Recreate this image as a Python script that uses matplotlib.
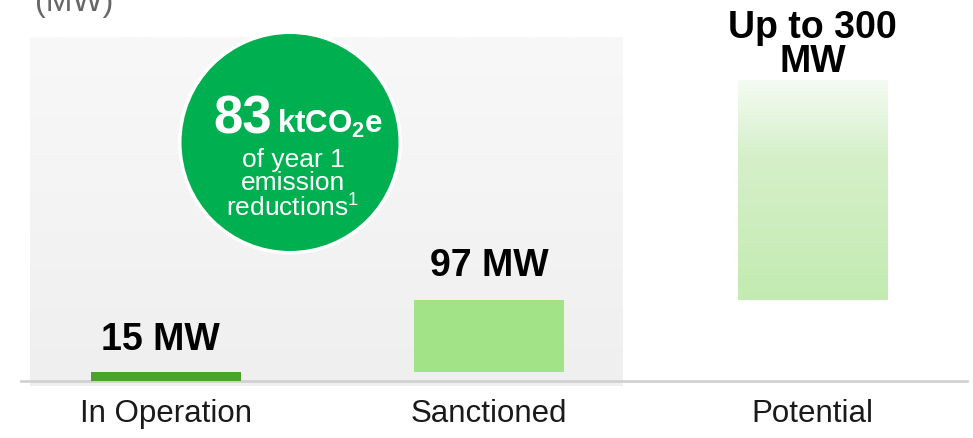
import numpy as np
import matplotlib.pyplot as plt
from matplotlib.patches import Circle
from matplotlib.colors import LinearSegmentedColormap

W, H = 973, 439

# Datos
categorias = ['In Operation', 'Sanctioned', 'Potential']
etiquetas = ['15 MW', '97 MW', 'Up to 300\nMW']
# extension de cada barra tal como se dibuja (cascada, no a escala)
base = [0, 9, 81]
altura = [9, 72, 220]
colores = ['#4ea12b', '#a3e388', '#c6ecb5']

reduccion = '83'
reduccion_unidad = r'$\mathbf{ktCO_2e}$'
reduccion_texto = 'of year 1\nemission\n' + r'reductions$^{1}$'


def px(x, y):
    # pixeles (desde arriba a la izquierda) -> fraccion de figura
    return x / W, 1 - y / H


plt.rcParams['font.family'] = ['Liberation Sans', 'DejaVu Sans']
plt.rcParams['mathtext.fontset'] = 'custom'
plt.rcParams['mathtext.rm'] = 'Liberation Sans'
plt.rcParams['mathtext.bf'] = 'Liberation Sans:bold'

fig = plt.figure(figsize=(W / 100, H / 100), dpi=100)

# fondo gris con degradado
bg = fig.add_axes([30 / W, 1 - 387 / H, 593 / W, 349 / H], zorder=0)
grad = np.linspace(0, 1, 256).reshape(-1, 1)
cmap_bg = LinearSegmentedColormap.from_list('bg', ['#f8f8f8', '#efefef'])
bg.imshow(grad, aspect='auto', cmap=cmap_bg, extent=[0, 1, 0, 1], origin='upper')
bg.axis('off')

# ejes principales
ax = fig.add_axes([21 / W, 1 - 382 / H, 946 / W, 382 / H], zorder=1)
ax.patch.set_alpha(0)
x = np.arange(len(categorias))
bars = ax.bar(x, altura, bottom=base, width=0.464, color=colores, zorder=3)

# degradado de la barra "Potential"
b = bars[2]
b.set_facecolor('none')
cmap_pot = LinearSegmentedColormap.from_list(
    'pot', [(0, '#f4fbf2'), (0.35, '#d5f0c9'), (1, '#c3ebb1')])
ax.imshow(grad, aspect='auto', cmap=cmap_pot, origin='upper', zorder=3,
          extent=[b.get_x(), b.get_x() + b.get_width(),
                  b.get_y(), b.get_y() + b.get_height()])

ax.set_xlim(-0.449, 2.478)
ax.set_ylim(0, 382)

for s in ['top', 'right', 'left']:
    ax.spines[s].set_visible(False)
ax.spines['bottom'].set_color('#d0d0d0')
ax.spines['bottom'].set_linewidth(1.9)
ax.set_yticks([])
ax.set_xticks(x, categorias, fontsize=22.5, color='#1a1a1a')
ax.tick_params(axis='x', length=0, pad=12)

# etiquetas de valores
pads = [11, 12, 1]
for i in range(len(x)):
    ax.annotate(etiquetas[i], xy=(x[i], base[i] + altura[i]),
                xytext=(-4 if i == 0 else 0, pads[i]), textcoords='offset points',
                ha='center', va='bottom', fontsize=27, fontweight='bold',
                linespacing=0.9, color='black', zorder=5)

# circulo de reduccion de emisiones
fig.add_artist(Circle((2.90, (H - 143.5) / 100), 1.12, transform=fig.dpi_scale_trans,
                      facecolor='white', edgecolor='none', zorder=4))
fig.add_artist(Circle((2.90, (H - 143.5) / 100), 1.085, transform=fig.dpi_scale_trans,
                      facecolor='#00b050', edgecolor='none', zorder=5))

fig.text(*px(213, 133), reduccion, ha='left', va='baseline', fontsize=38,
         fontweight='bold', color='white', zorder=6)
fig.text(*px(277, 133), reduccion_unidad, ha='left', va='baseline', fontsize=22.5,
         color='white', zorder=6)
fig.text(*px(293, 148), reduccion_texto, ha='center', va='top',
         fontsize=19, linespacing=0.93, color='white', zorder=6)

# unidad arriba a la izquierda (cortada)
fig.text(*px(35, 11), '(MW)', ha='left', va='baseline', fontsize=23, color='#666666')

plt.savefig('out.png', dpi=100)
